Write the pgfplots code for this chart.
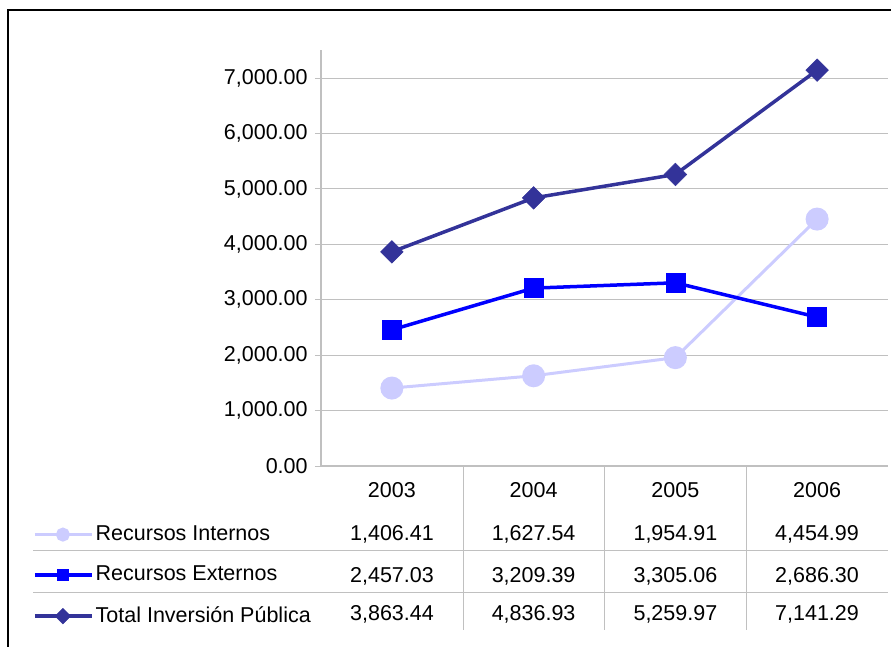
\documentclass[border=0pt]{standalone}
\usepackage{fontspec}
\setmainfont{Liberation Sans}
\usepackage{pgfplots}
\pgfplotsset{compat=1.18}
\definecolor{cInt}{RGB}{204,204,255}
\definecolor{cExt}{RGB}{0,0,255}
\definecolor{cTot}{RGB}{51,51,153}
\definecolor{gridc}{RGB}{192,192,192}
\begin{document}
\fontsize{21.5}{26}\selectfont
\begin{tikzpicture}[x=1pt,y=1pt]
\useasboundingbox (0,0) rectangle (891,646);
\clip (0,0) rectangle (891,646);
\draw[line width=2pt] (8,636) rectangle (905,-20);
\begin{axis}[at={(321pt,180pt)}, anchor=south west, scale only axis,
  width=567pt, height=415.7pt,
  xmin=-0.5, xmax=3.5, ymin=0, ymax=7500,
  axis x line*=bottom, axis y line*=left,
  axis line style={-, draw=gridc, line width=1.2pt},
  xtick={0,1,2,3}, xticklabels={2003,2004,2005,2006},
  xtick style={draw=none},
  xticklabel style={anchor=center, yshift=-18pt},
  ytick={0,1000,...,7000},
  tick align=outside, major tick length=6pt,
  ytick style={draw=gridc, line width=1pt},
  ymajorgrids, major grid style={draw=gridc, line width=1pt},
  yticklabel style={/pgf/number format/.cd, fixed, fixed zerofill, precision=2, 1000 sep={,}, assume math mode=true},
  tick label style={font=\fontsize{21.5}{26}\selectfont},
  legend style={at={(axis description cs:-0.508,-0.138)}, anchor=north west, draw=none, fill=none,
    font=\fontsize{21.5}{26}\selectfont, row sep=18.5pt, inner sep=0pt},
  legend cell align=left,
  legend image code/.code={\draw[mark repeat=2, mark phase=2, #1, mark size=5.5pt] plot coordinates {(0pt,0pt) (28pt,0pt) (57pt,0pt)};},
  clip=false,
]
\addplot[cInt, line width=3pt, mark=*, mark size=10pt, mark options={solid, fill=cInt, draw=cInt}]
  coordinates {(0,1406.41) (1,1627.54) (2,1954.91) (3,4454.99)};
\addlegendentry{Recursos Internos}
\addplot[cExt, line width=3.5pt, mark=square*, mark size=9.5pt, mark options={solid, fill=cExt, draw=cExt, line width=0.5pt}]
  coordinates {(0,2457.03) (1,3209.39) (2,3305.06) (3,2686.30)};
\addlegendentry{Recursos Externos}
\addplot[cTot, line width=3.5pt, mark=square*, mark size=8pt, mark options={solid, rotate=45, fill=cTot, draw=cTot, line width=0.5pt}]
  coordinates {(0,3863.44) (1,4836.93) (2,5259.97) (3,7141.29)};
\addlegendentry{Total Inversión Pública}
\end{axis}
% data table grid
\draw[gridc, line width=1pt] (463,180) -- (463,16) (604,180) -- (604,16) (746,180) -- (746,16);
\draw[gridc, line width=1pt] (33,96) -- (888,96) (33,54) -- (888,54);
% data table values
\foreach \x/\a/\b/\c in {392/{1,406.41}/{2,457.03}/{3,863.44},
                          533.6/{1,627.54}/{3,209.39}/{4,836.93},
                          675.4/{1,954.91}/{3,305.06}/{5,259.97},
                          817/{4,454.99}/{2,686.30}/{7,141.29}} {
  \node[anchor=center] at (\x,112) {\a};
  \node[anchor=center] at (\x,70) {\b};
  \node[anchor=center] at (\x,32) {\c};
}
\end{tikzpicture}
\end{document}
